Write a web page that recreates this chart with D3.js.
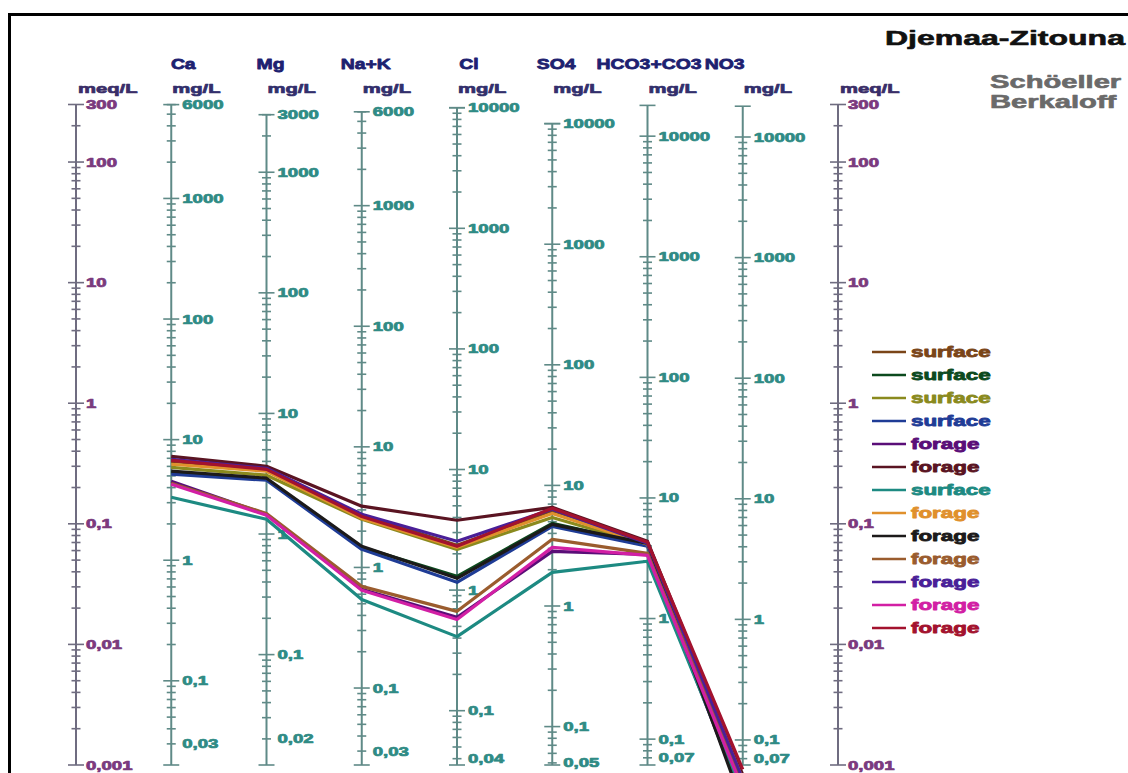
<!DOCTYPE html>
<html><head><meta charset="utf-8">
<script src="https://cdn.jsdelivr.net/npm/d3@7"></script>
<style>body{margin:0;background:#fff}svg{display:block}</style>
</head><body><svg id="c" width="1128" height="773"></svg>
<script>
// ---- data ----
const ions = ["Ca", "Mg", "Na+K", "Cl", "SO4", "HCO3+CO3", "NO3"];
const eqWeight = [20.04, 12.15, 23.0, 35.45, 48.03, 61.02, 62.0];
const axisTopMg = [6000, 3000, 6000, 10000, 10000, 18000, 18000];
const axisTopLabel = [6000, 3000, 6000, 10000, 10000, 10000, 10000];
const axisBottomLabel = [0.03, 0.02, 0.03, 0.04, 0.05, 0.07, 0.07];
const meqLabels = [300, 100, 10, 1, 0.1, 0.01, 0.001];
const title = "Djemaa-Zitouna";
const subtitle = ["Schöeller", "Berkaloff"];

// values in meq/L : Ca, Mg, Na+K, Cl, SO4, HCO3+CO3, NO3
const sBrownSurface   = [0.330, 0.283, 0.118, 0.0663, 0.129, 0.0702, 0.00076];
const sGreenSurface   = [0.268, 0.234, 0.0638, 0.0367, 0.101, 0.0676, 0.00057];
const sOliveSurface   = [0.294, 0.253, 0.109, 0.0614, 0.113, 0.0663, 0.00069];
const sBlueSurface    = [0.258, 0.230, 0.0614, 0.0327, 0.0953, 0.0651, 0.00063];
const sPurpleForage   = [0.225, 0.120, 0.0286, 0.0168, 0.0591, 0.0558, 0.00052];
const sMaroonForage   = [0.363, 0.300, 0.140, 0.107, 0.137, 0.0716, 0.00083];
const sTealSurface    = [0.166, 0.109, 0.0236, 0.0116, 0.0396, 0.0489, 0.00057];
const sOrangeForage   = [0.312, 0.273, 0.111, 0.0638, 0.122, 0.0676, 0.00076];
const sBlackForage    = [0.273, 0.239, 0.0651, 0.0353, 0.099, 0.0689, 0.00047];
const sBrownForage    = [0.217, 0.122, 0.0303, 0.0188, 0.0744, 0.0569, 0.00069];
const sIndigoForage   = [0.343, 0.289, 0.120, 0.0716, 0.132, 0.0689, 0.00076];
const sMagentaForage  = [0.213, 0.118, 0.0281, 0.0161, 0.0638, 0.0548, 0.00063];
const sCrimsonForage  = [0.336, 0.283, 0.115, 0.0651, 0.1345, 0.0702, 0.00092];

const seriesNames = ["surface","surface","surface","surface","forage","forage","surface","forage","forage","forage","forage","forage","forage"];
const seriesColors = ["#7a4518","#0c4a1e","#8a8a1e","#1f3c96","#5a0e78","#5a1422","#1d8a82","#e0902c","#1c1a1a","#9a5c2e","#4a1f98","#d21fa4","#a3122e"];
const seriesValues = [sBrownSurface,sGreenSurface,sOliveSurface,sBlueSurface,sPurpleForage,sMaroonForage,sTealSurface,sOrangeForage,sBlackForage,sBrownForage,sIndigoForage,sMagentaForage,sCrimsonForage];

// ---- drawing ----
const svg = d3.select("#c");
const FONT = "'Liberation Sans', Arial, sans-serif";
const y = d3.scaleLog().domain([300, 0.001]).range([104.5, 765]);
const x = d3.scalePoint().domain(["meqL", ...ions, "meqR"]).range([76, 838]);

function stext(g, px, py, str, size, color, sx, anchor, sw) {
  return g.append("text")
    .attr("transform", `translate(${px},${py}) scale(${sx},1)`)
    .attr("font-family", FONT).attr("font-weight", "bold")
    .attr("font-size", size).attr("fill", color)
    .attr("stroke", color).attr("stroke-width", sw === undefined ? 0.7 : sw)
    .attr("stroke-linejoin", "round")
    .attr("text-anchor", anchor || "start")
    .text(str);
}
const fmt = v => String(v).replace(".", ",");
function logTicks(lo, hi) {
  const out = [];
  for (let k = Math.floor(Math.log10(lo)) - 1; k <= Math.ceil(Math.log10(hi)); k++)
    for (let m = 1; m <= 9; m++) {
      const v = +(m * Math.pow(10, k)).toPrecision(6);
      if (v >= lo * 0.9999 && v <= hi * 1.0001) out.push(v);
    }
  return out;
}
const isDecade = v => Math.abs(Math.log10(v) - Math.round(Math.log10(v))) < 1e-9;

// frame
svg.append("rect").attr("x", 9.5).attr("y", 14.5).attr("width", 1140).attr("height", 800)
  .attr("fill", "none").attr("stroke", "#000").attr("stroke-width", 3);

const gAx = svg.append("g");
// meq axes
["meqL", "meqR"].forEach(k => {
  const ax = x(k);
  const col = "#6f6c80";
  gAx.append("line").attr("x1", ax).attr("x2", ax).attr("y1", y(300)).attr("y2", y(0.001))
    .attr("stroke", col).attr("stroke-width", 2);
  logTicks(0.001, 300).forEach(v => {
    const h = (isDecade(v) || v === 300) ? 8 : 4.5;
    gAx.append("line").attr("x1", ax - h).attr("x2", ax + h).attr("y1", y(v)).attr("y2", y(v))
      .attr("stroke", col).attr("stroke-width", 1.6);
  });
  meqLabels.forEach(v => {
    stext(gAx, ax + 10, y(v) + 4.5, fmt(v), 12, "#7b3a7e", 1.55);
  });
  stext(gAx, ax + 2, 93, "meq/L", 13.5, "#3a2e68", 1.5);
});

// ion axes
ions.forEach((ion, i) => {
  const ax = x(ion);
  const eq = eqWeight[i];
  const ym = d3.scaleLog().domain([300 * eq, 0.001 * eq]).range(y.range());
  const lo = 0.001 * eq, hi = axisTopMg[i];
  const col = "#5f8a87";
  gAx.append("line").attr("x1", ax).attr("x2", ax).attr("y1", ym(hi)).attr("y2", ym(lo))
    .attr("stroke", col).attr("stroke-width", 2);
  const ticks = logTicks(lo, hi);
  ticks.forEach(v => {
    const h = isDecade(v) ? 8 : 4.5;
    gAx.append("line").attr("x1", ax - h).attr("x2", ax + h).attr("y1", ym(v)).attr("y2", ym(v))
      .attr("stroke", col).attr("stroke-width", 1.6);
  });
  [hi, lo].forEach(v => {
    gAx.append("line").attr("x1", ax - 8).attr("x2", ax + 8).attr("y1", ym(v)).attr("y2", ym(v))
      .attr("stroke", col).attr("stroke-width", 1.6);
  });
  const labels = ticks.filter(isDecade).filter(v => v <= axisTopLabel[i] && v >= axisBottomLabel[i]);
  [axisTopLabel[i], ...labels, axisBottomLabel[i]]
    .filter((v, j, a) => a.indexOf(v) === j)
    .forEach(v => stext(gAx, ax + 11, ym(v) + 4.5, fmt(v), 12, "#2f8b85", 1.55));
  stext(gAx, ax + 1, 93, "mg/L", 13.5, "#322f6c", 1.5);
  // ion header
  let hx = ax + 4, anchor = "middle";
  if (ion === "Ca" || ion === "Cl") hx = ax + 12;
  if (ion === "HCO3+CO3") { hx = ax + 54; anchor = "end"; }
  if (ion === "NO3") { hx = ax - 38; anchor = "start"; }
  stext(gAx, hx, 69, ion, 15.5, "#1d2170", 1.25, anchor, 0.8);
});

// series
const line = d3.line().x((d, i) => x(ions[i])).y(d => y(d));
const gS = svg.append("g");
seriesValues.forEach((vals, s) => {
  gS.append("path").attr("d", line(vals)).attr("fill", "none")
    .attr("stroke", seriesColors[s]).attr("stroke-width", 3.2)
    .attr("stroke-linejoin", "round");
});

// legend
const gL = svg.append("g");
seriesNames.forEach((n, s) => {
  const ly = 352 + s * 23;
  gL.append("line").attr("x1", 872).attr("x2", 906).attr("y1", ly).attr("y2", ly)
    .attr("stroke", seriesColors[s]).attr("stroke-width", 2.5);
  stext(gL, 911, ly + 5, n, 14, seriesColors[s], 1.6, "start", 0.8);
});

// titles
stext(svg, 885, 45, title, 20, "#111", 1.6, "start", 0.6);
stext(svg, 990, 88, subtitle[0], 18, "#6a6a6a", 1.62, "start", 0.6);
stext(svg, 990, 108, subtitle[1], 18, "#6a6a6a", 1.62, "start", 0.6);
</script></body></html>
